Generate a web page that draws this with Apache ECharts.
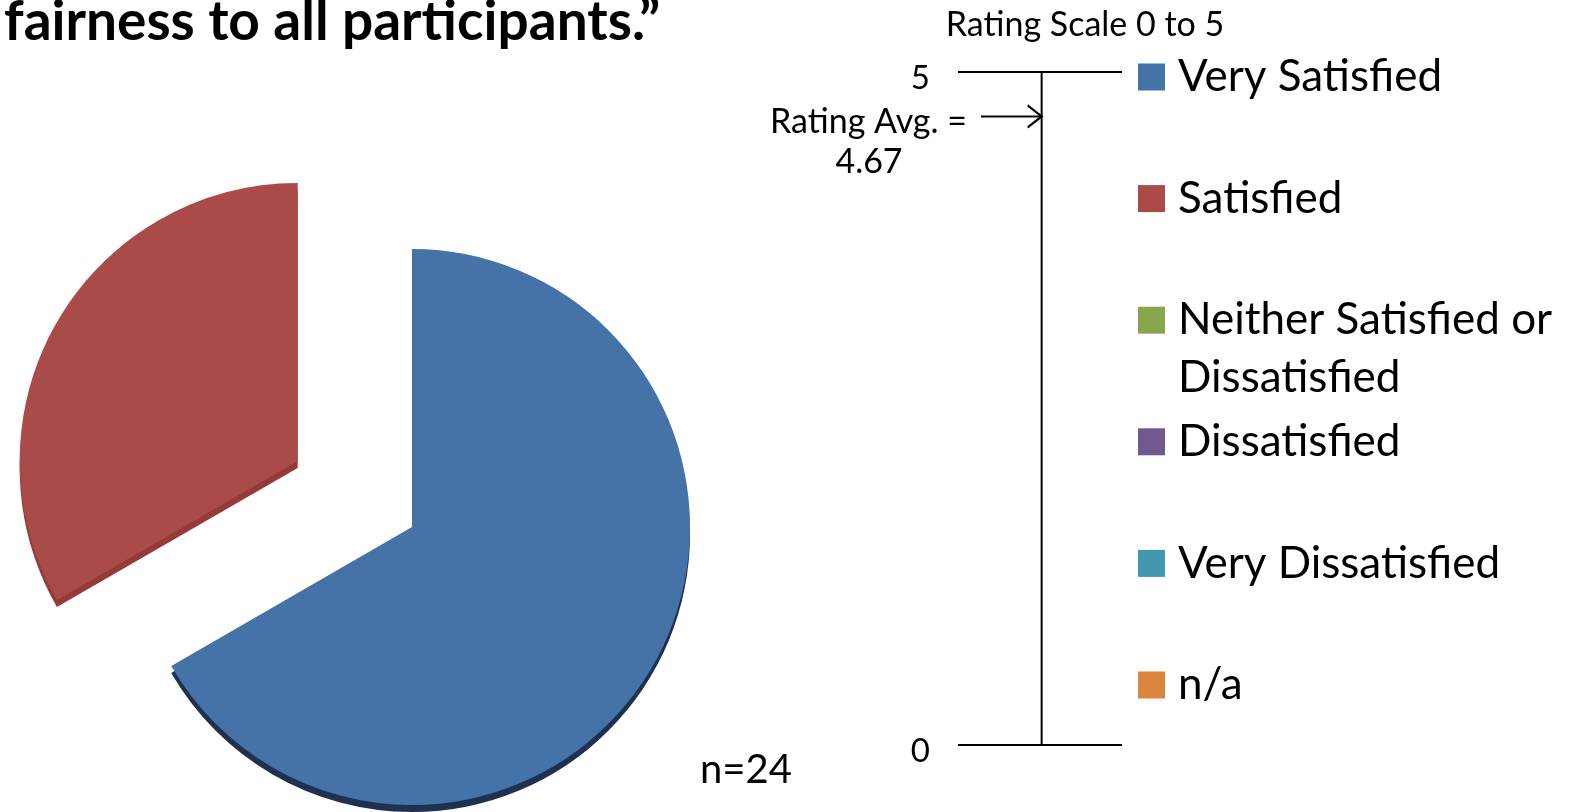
<!DOCTYPE html>
<html>
<head>
<meta charset="utf-8">
<script src="https://cdn.jsdelivr.net/npm/echarts@6/dist/echarts.min.js"></script>
<style>
  html, body { margin: 0; padding: 0; background: #fff; }
  #chart { width: 1575px; height: 812px; }
</style>
</head>
<body>
<div id="chart"></div>
<script>
// survey answers (n = sum of counts)
const categories = ['Very Satisfied', 'Satisfied', 'Neither Satisfied or Dissatisfied', 'Dissatisfied', 'Very Dissatisfied', 'n/a'];
const counts = [16, 8, 0, 0, 0, 0];
// rating scale shown on the right
const scaleRange = [0, 5];
const ratingAvg = 4.67;

const colors = ['#4572A7', '#AA4B49', '#89A54E', '#71588F', '#4198AF', '#DB843D'];
const sideColors = ['#1f3150', '#943b39', '#5e7433', '#4d3b63', '#2b6a7a', '#a05c25'];
const FONT = 'Lato';
const stemX = 0.51;
const arrowStartX = 0.14;
const chevron = 'path://M0,0L12,10L0,20';

const total = counts.reduce((a, b) => a + b, 0);

const chart = echarts.init(document.getElementById('chart'), null, { renderer: 'canvas' });

const legendCenters = categories.map((_, i) => 77 + i * 121.6);
const wrapName = (name) => name === 'Neither Satisfied or Dissatisfied'
  ? '\nNeither Satisfied or\nDissatisfied'
  : name;

const legends = categories.map((name, i) => ({
  data: [{ name, icon: 'rect', itemStyle: { color: colors[i] } }],
  left: 1138,
  top: legendCenters[i] - (wrapName(name).split('\n').length * 58) / 2,
  orient: 'vertical',
  padding: 0,
  itemWidth: 27,
  itemHeight: 27,
  selectedMode: false,
  formatter: wrapName,
  textStyle: {
    fontFamily: FONT,
    fontSize: 44,
    lineHeight: 58,
    color: '#000',
    padding: [0, 0, 0, 8],
  },
}));

const option = {
  animation: false,
  backgroundColor: '#fff',
  legend: legends,
  grid: [{ left: 958, width: 164, top: 72, height: 673 }],
  xAxis: [{ type: 'value', gridIndex: 0, min: 0, max: 1, show: false }],
  yAxis: [{
    type: 'value',
    gridIndex: 0,
    min: scaleRange[0],
    max: scaleRange[1],
    interval: scaleRange[1] - scaleRange[0],
    axisLine: { show: false },
    axisTick: { show: false },
    axisLabel: { color: '#000', fontFamily: FONT, fontSize: 33, margin: 28, verticalAlign: 'top', lineHeight: 12 },
    splitLine: { show: true, lineStyle: { color: '#000', width: 2 } },
  }],
  series: [
    {
      type: 'pie',
      center: [412, 527],
      radius: 278,
      startAngle: 90,
      clockwise: true,
      selectedMode: 'single',
      selectedOffset: 132,
      label: { show: false },
      labelLine: { show: false },
      emphasis: { scale: false },
      data: categories.map((name, i) => ({
        name,
        value: counts[i],
        selected: i === 1,
        itemStyle: {
          color: colors[i],
          shadowColor: sideColors[i],
          shadowOffsetY: 7,
          shadowBlur: 0,
        },
      })),
    },
    {
      // vertical stem of the rating scale
      type: 'line',
      xAxisIndex: 0,
      yAxisIndex: 0,
      silent: true,
      symbol: 'none',
      lineStyle: { color: '#000', width: 2 },
      data: [[stemX, scaleRange[0]], [stemX, scaleRange[1]]],
    },
    {
      // arrow pointing to the rating average
      type: 'line',
      xAxisIndex: 0,
      yAxisIndex: 0,
      silent: true,
      symbol: (val, params) => (params.dataIndex === 1 ? chevron : 'none'),
      symbolSize: [14, 22],
      symbolOffset: [-7, 0],
      itemStyle: { color: 'rgba(0,0,0,0)', borderColor: '#000', borderWidth: 2 },
      lineStyle: { color: '#000', width: 2 },
      data: [[arrowStartX, ratingAvg], [stemX, ratingAvg]],
    },
  ],
  graphic: [
    {
      type: 'text', left: 4, top: -5,
      style: { text: 'fairness to all participants.\u201d', font: 'bold 55px ' + FONT, fill: '#000' },
    },
    {
      type: 'text', x: 1085, y: 25,
      style: { text: 'Rating Scale ' + scaleRange[0] + ' to ' + scaleRange[1], font: '34px ' + FONT, fill: '#000', align: 'center', verticalAlign: 'middle' },
    },
    {
      type: 'text', x: 967, y: 122,
      style: { text: 'Rating Avg. =', font: '34px ' + FONT, fill: '#000', align: 'right', verticalAlign: 'middle' },
    },
    {
      type: 'text', x: 869, y: 162,
      style: { text: ratingAvg.toFixed(2), font: '34px ' + FONT, fill: '#000', align: 'center', verticalAlign: 'middle' },
    },
    {
      type: 'text', x: 746, y: 770,
      style: { text: 'n=' + total, font: '40px ' + FONT, fill: '#000', align: 'center', verticalAlign: 'middle' },
    },
  ],
};

chart.setOption(option);
window.addEventListener('resize', () => chart.resize());
</script>
</body>
</html>
